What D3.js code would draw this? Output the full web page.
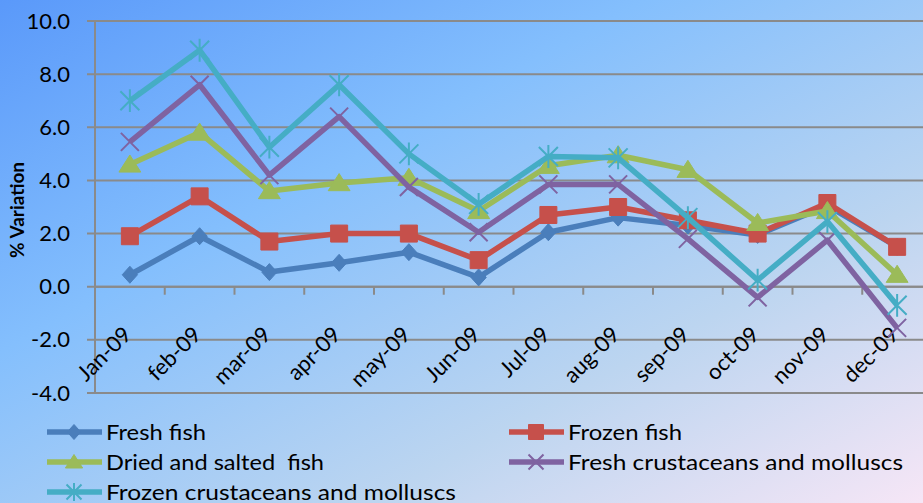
<!DOCTYPE html>
<html>
<head>
<meta charset="utf-8">
<script src="https://cdn.jsdelivr.net/npm/d3@7"></script>
<style>
  html, body { margin: 0; padding: 0; }
  svg { display: block; }
</style>
</head>
<body>
<div id="chart"></div>
<script>
// data
var months = ['Jan-09', 'feb-09', 'mar-09', 'apr-09', 'may-09', 'Jun-09',
  'Jul-09', 'aug-09', 'sep-09', 'oct-09', 'nov-09', 'dec-09'];
var yTicks = [-4, -2, 0, 2, 4, 6, 8, 10];
var seriesNames = ['Fresh fish', 'Frozen fish', 'Dried and salted  fish',
  'Fresh crustaceans and molluscs', 'Frozen crustaceans and molluscs'];
var freshFish = [0.45, 1.9, 0.55, 0.9, 1.3, 0.35, 2.05, 2.6, 2.3, 1.95, 3.05, 1.5];
var frozenFish = [1.9, 3.4, 1.7, 2.0, 2.0, 1.0, 2.7, 3.0, 2.5, 2.0, 3.15, 1.5];
var driedFish = [4.6, 5.8, 3.6, 3.9, 4.1, 2.85, 4.55, 4.95, 4.4, 2.4, 2.85, 0.45];
var freshCrust = [5.45, 7.6, 4.2, 6.4, 3.75, 2.05, 3.85, 3.85, 1.8, -0.4, 1.75, -1.55];
var frozenCrust = [7.0, 8.9, 5.25, 7.6, 5.0, 3.1, 4.9, 4.85, 2.6, 0.25, 2.45, -0.7];

var width = 923;
var height = 503;

var colors = ['#4a7ebb', '#c6504b', '#9bbb59', '#7f63a1', '#45adc5'];
var markers = ['diamond', 'square', 'triangle', 'x', 'asterisk'];
var values = [freshFish, frozenFish, driedFish, freshCrust, frozenCrust];

var svg = d3.select('#chart').append('svg')
  .attr('width', width)
  .attr('height', height);

// 背景のグラデーション
var defs = svg.append('defs');
var grad = defs.append('linearGradient')
  .attr('id', 'bg')
  .attr('x1', 0).attr('y1', 0)
  .attr('x2', 1).attr('y2', 1);
grad.append('stop').attr('offset', '0%').attr('stop-color', '#5a99fa');
grad.append('stop').attr('offset', '35%').attr('stop-color', '#84bffd');
grad.append('stop').attr('offset', '70%').attr('stop-color', '#bcd5f0');
grad.append('stop').attr('offset', '100%').attr('stop-color', '#f6e6f6');

svg.append('rect')
  .attr('width', width)
  .attr('height', height)
  .attr('fill', 'url(#bg)');

// scales
var x = d3.scaleBand().domain(months).range([95, 932]);
var y = d3.scaleLinear().domain([-4, 10]).range([393, 21]);

var gridColor = '#8a8a8a';

// gridlines
svg.append('g').selectAll('line')
  .data(yTicks)
  .enter()
  .append('line')
  .attr('x1', 87)
  .attr('x2', width)
  .attr('y1', function(d) { return y(d); })
  .attr('y2', function(d) { return y(d); })
  .attr('stroke', gridColor)
  .attr('stroke-width', 2);

// y axis (labels only)
var yAxis = svg.append('g')
  .attr('transform', 'translate(95,0)')
  .call(d3.axisLeft(y)
    .tickValues(yTicks)
    .tickSize(0)
    .tickPadding(25)
    .tickFormat(function(d) { return d.toFixed(1); }));
yAxis.select('.domain').remove();
yAxis.selectAll('text')
  .attr('font-family', 'Lato, sans-serif')
  .attr('font-size', 22)
  .attr('fill', '#000');

svg.append('line')
  .attr('x1', 95).attr('x2', 95)
  .attr('y1', y(10)).attr('y2', y(-4))
  .attr('stroke', gridColor)
  .attr('stroke-width', 2);

// x axis at zero
svg.append('line')
  .attr('x1', 95).attr('x2', width)
  .attr('y1', y(0)).attr('y2', y(0))
  .attr('stroke', gridColor)
  .attr('stroke-width', 2);

svg.append('g').selectAll('line')
  .data(months.slice(1))
  .enter()
  .append('line')
  .attr('x1', function(d) { return x(d); })
  .attr('x2', function(d) { return x(d); })
  .attr('y1', y(0))
  .attr('y2', y(0) + 8)
  .attr('stroke', gridColor)
  .attr('stroke-width', 2);

svg.append('g').selectAll('text')
  .data(months)
  .enter()
  .append('text')
  .attr('transform', function(d) {
    return 'translate(' + (x(d) + x.bandwidth() / 2 + 3) + ',' + 336 + ') rotate(-45)';
  })
  .attr('text-anchor', 'end')
  .attr('font-family', 'Lato, sans-serif')
  .attr('font-size', 22)
  .attr('fill', '#000')
  .text(function(d) { return d; });

// y label
svg.append('text')
  .attr('transform', 'translate(24,210) rotate(-90)')
  .attr('text-anchor', 'middle')
  .attr('font-family', 'Lato, sans-serif')
  .attr('font-weight', 'bold')
  .attr('font-size', 19)
  .attr('fill', '#000')
  .text('% Variation');

// マーカーのパス
function markerPath(type, s) {
  var h = s / 2;
  if (type === 'diamond') {
    return 'M0,' + (-h) + 'L' + (h * 0.9) + ',0L0,' + h + 'L' + (-h * 0.9) + ',0Z';
  } else if (type === 'square') {
    return 'M' + (-h) + ',' + (-h) + 'H' + h + 'V' + h + 'H' + (-h) + 'Z';
  } else if (type === 'triangle') {
    return 'M0,' + (-h) + 'L' + (h * 1.15) + ',' + (h * 0.8) + 'L' + (-h * 1.15) + ',' + (h * 0.8) + 'Z';
  } else if (type === 'x') {
    return 'M' + (-h) + ',' + (-h) + 'L' + h + ',' + h + 'M' + h + ',' + (-h) + 'L' + (-h) + ',' + h;
  }
  // asterisk
  return 'M' + (-h) + ',' + (-h) + 'L' + h + ',' + h + 'M' + h + ',' + (-h) + 'L' + (-h) + ',' + h +
    'M0,' + (-h * 1.2) + 'V' + (h * 1.2);
}

function isStroke(type) {
  return type === 'x' || type === 'asterisk';
}

var line = d3.line()
  .x(function(d, i) { return x(months[i]) + x.bandwidth() / 2; })
  .y(function(d) { return y(d); });

var markerSize = [17, 17, 19, 18, 19];

values.forEach(function(vals, si) {
  var g = svg.append('g');
  g.append('path')
    .datum(vals)
    .attr('d', line)
    .attr('fill', 'none')
    .attr('stroke', colors[si])
    .attr('stroke-width', 5.5)
    .attr('stroke-linejoin', 'round');

  g.selectAll('.marker')
    .data(vals)
    .enter()
    .append('path')
    .classed('marker', true)
    .attr('transform', function(d, i) {
      return 'translate(' + (x(months[i]) + x.bandwidth() / 2) + ',' + y(d) + ')';
    })
    .attr('d', markerPath(markers[si], markerSize[si]))
    .attr('fill', isStroke(markers[si]) ? 'none' : colors[si])
    .attr('stroke', colors[si])
    .attr('stroke-width', isStroke(markers[si]) ? 2 : 1);
});

// 凡例
var legendPos = [[47, 432], [509, 432], [47, 462], [509, 462], [47, 492]];
var legendTextLen = [100, 114, 218, 335, 350];

seriesNames.forEach(function(name, si) {
  var lx = legendPos[si][0];
  var ly = legendPos[si][1];
  var lg = svg.append('g');
  lg.append('line')
    .attr('x1', lx).attr('x2', lx + 55)
    .attr('y1', ly).attr('y2', ly)
    .attr('stroke', colors[si])
    .attr('stroke-width', 5.5);
  lg.append('path')
    .attr('transform', 'translate(' + (lx + 27) + ',' + ly + ')')
    .attr('d', markerPath(markers[si], 15))
    .attr('fill', isStroke(markers[si]) ? 'none' : colors[si])
    .attr('stroke', colors[si])
    .attr('stroke-width', isStroke(markers[si]) ? 2 : 1);
  lg.append('text')
    .attr('x', lx + 59)
    .attr('y', ly)
    .attr('dy', '0.36em')
    .attr('font-family', 'Lato, sans-serif')
    .attr('font-size', 21)
    .style('white-space', 'pre')
    .attr('fill', '#000')
    .attr('textLength', legendTextLen[si])
    .attr('lengthAdjust', 'spacingAndGlyphs')
    .text(name);
});
</script>
</body>
</html>
